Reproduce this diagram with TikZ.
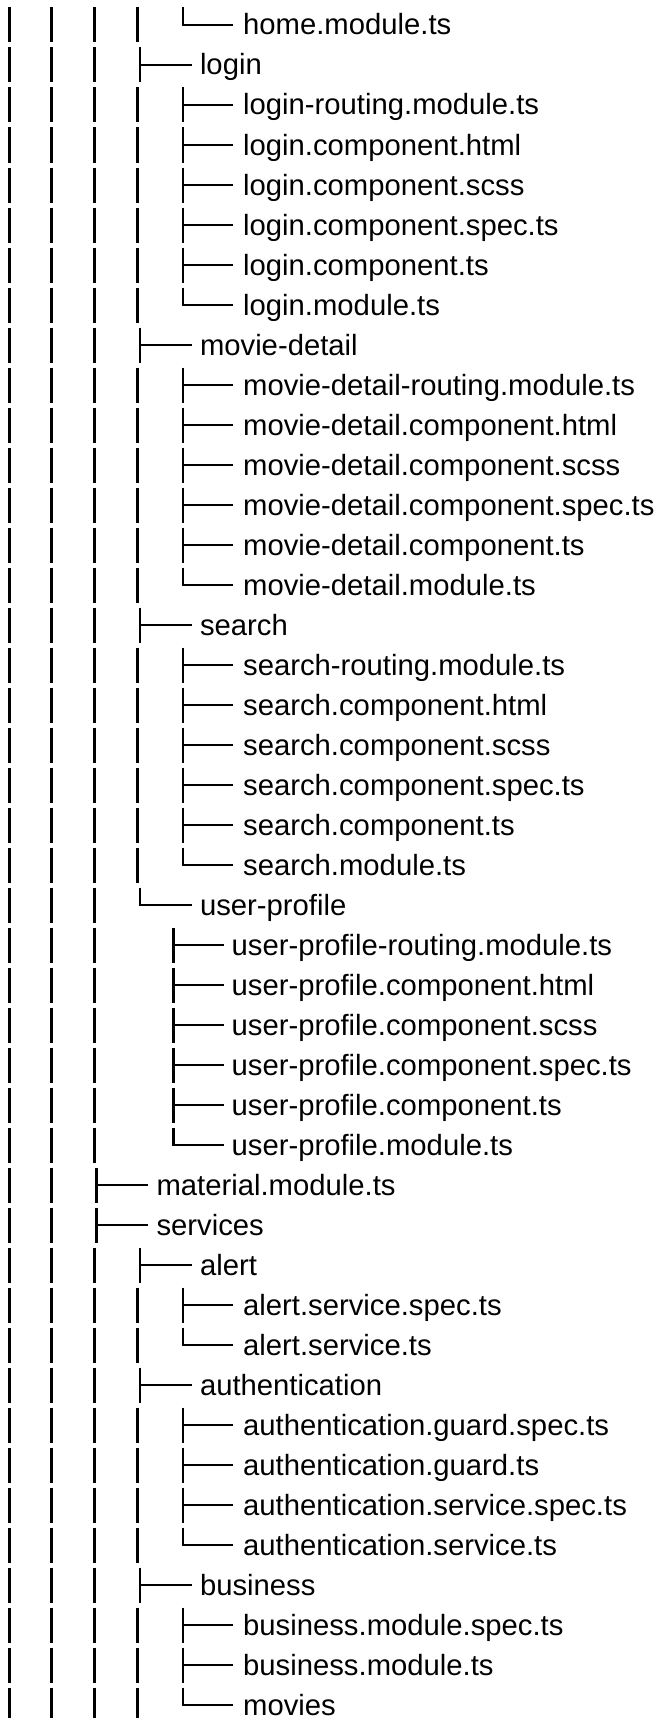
\documentclass[tikz,border=0pt]{standalone}
\usepackage{fontspec}
\setmainfont{Liberation Sans}
\tikzset{
  treeline/.style={line width=2.6pt, black},
  entry/.style={anchor=base west, inner sep=0pt, text=black, font=\fontsize{29.25}{30}\selectfont}
}
\newcommand\treebars[2]{%
  \foreach \bx [count=\bi] in {9.3,51.7,94.3,137.7}{%
    \ifnum\bi>#2\relax\else
      \draw[treeline] (\bx,#1-17.5) -- (\bx,#1+17.5);
    \fi
  }%
}
\newcommand\ent[6]{%
  \pgfmathsetmacro\yc{25+40*(#1-1)}%
  \treebars{\yc}{#2}%
  \ifcase#3\or\or
    \def\cx{96.7}\def\hx{148.3}\def\tx{156.4}\or
    \def\cx{140}\def\hx{191.7}\def\tx{199.8}\or
    \def\cx{183}\def\hx{233}\def\tx{243}\or
    \def\cx{173.3}\def\hx{224}\def\tx{231.5}\fi
  \if#4T
    \draw[treeline] (\cx,\yc-17.5) -- (\cx,\yc+17.5);
    \draw[treeline] (\cx,\yc) -- (\hx,\yc);
  \else
    \draw[treeline, line join=miter] (\cx,\yc-17.5) |- (\hx,\yc);
  \fi
  \node[entry] (#5) at (\tx,\yc+10) {#6};
}
\begin{document}
\begin{tikzpicture}[x=1pt,y=-1pt]
\useasboundingbox (0,0) rectangle (661,1718);
\ent{1}{4}{4}{L}{r1}{home.module.ts}
\ent{2}{3}{3}{T}{r2}{login}
\ent{3}{4}{4}{T}{r3}{login-routing.module.ts}
\ent{4}{4}{4}{T}{r4}{login.component.html}
\ent{5}{4}{4}{T}{r5}{login.component.scss}
\ent{6}{4}{4}{T}{r6}{login.component.spec.ts}
\ent{7}{4}{4}{T}{r7}{login.component.ts}
\ent{8}{4}{4}{L}{r8}{login.module.ts}
\ent{9}{3}{3}{T}{r9}{movie-detail}
\ent{10}{4}{4}{T}{r10}{movie-detail-routing.module.ts}
\ent{11}{4}{4}{T}{r11}{movie-detail.component.html}
\ent{12}{4}{4}{T}{r12}{movie-detail.component.scss}
\ent{13}{4}{4}{T}{r13}{movie-detail.component.spec.ts}
\ent{14}{4}{4}{T}{r14}{movie-detail.component.ts}
\ent{15}{4}{4}{L}{r15}{movie-detail.module.ts}
\ent{16}{3}{3}{T}{r16}{search}
\ent{17}{4}{4}{T}{r17}{search-routing.module.ts}
\ent{18}{4}{4}{T}{r18}{search.component.html}
\ent{19}{4}{4}{T}{r19}{search.component.scss}
\ent{20}{4}{4}{T}{r20}{search.component.spec.ts}
\ent{21}{4}{4}{T}{r21}{search.component.ts}
\ent{22}{4}{4}{L}{r22}{search.module.ts}
\ent{23}{3}{3}{L}{r23}{user-profile}
\ent{24}{3}{5}{T}{r24}{user-profile-routing.module.ts}
\ent{25}{3}{5}{T}{r25}{user-profile.component.html}
\ent{26}{3}{5}{T}{r26}{user-profile.component.scss}
\ent{27}{3}{5}{T}{r27}{user-profile.component.spec.ts}
\ent{28}{3}{5}{T}{r28}{user-profile.component.ts}
\ent{29}{3}{5}{L}{r29}{user-profile.module.ts}
\ent{30}{2}{2}{T}{r30}{material.module.ts}
\ent{31}{2}{2}{T}{r31}{services}
\ent{32}{3}{3}{T}{r32}{alert}
\ent{33}{4}{4}{T}{r33}{alert.service.spec.ts}
\ent{34}{4}{4}{L}{r34}{alert.service.ts}
\ent{35}{3}{3}{T}{r35}{authentication}
\ent{36}{4}{4}{T}{r36}{authentication.guard.spec.ts}
\ent{37}{4}{4}{T}{r37}{authentication.guard.ts}
\ent{38}{4}{4}{T}{r38}{authentication.service.spec.ts}
\ent{39}{4}{4}{L}{r39}{authentication.service.ts}
\ent{40}{3}{3}{T}{r40}{business}
\ent{41}{4}{4}{T}{r41}{business.module.spec.ts}
\ent{42}{4}{4}{T}{r42}{business.module.ts}
\ent{43}{4}{4}{L}{r43}{movies}
\end{tikzpicture}
\end{document}
